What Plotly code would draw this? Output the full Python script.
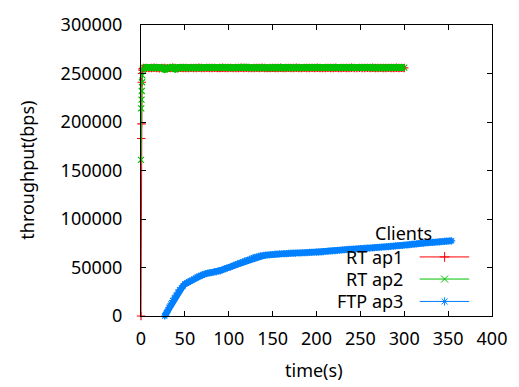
import plotly.graph_objects as go

# ---- data -------------------------------------------------------------
rt_time = [0, 0.3, 0.6, 0.9, 1.2, 1.6, 2.0] + list(range(3, 301, 3))

rt_ap1 = [0, 183000, 198000, 241000, 250000, 253500, 255000,
          255600, 255800, 255500, 255700, 255900, 255600, 255400, 255800, 255700, 255500,
          255600, 255900, 255700, 255400, 255800, 255600, 255700, 255500, 255800, 255600,
          255700, 255900, 255600, 255500, 255800, 255700, 255600, 255800, 255500, 255700,
          255900, 255600, 255700, 255800, 255500, 255600, 255700, 255900, 255600, 255800,
          255700, 255500, 255600, 255800, 255700, 255900, 255600, 255500, 255700, 255800,
          255600, 255700, 255900, 255500, 255600, 255800, 255700, 255600, 255900, 255700,
          255500, 255800, 255600, 255700, 255800, 255600, 255900, 255700, 255500, 255600,
          255800, 255700, 255600, 255900, 255500, 255700, 255800, 255600, 255700, 255900,
          255600, 255500, 255800, 255700, 255600, 255800, 255700, 255900, 255600, 255700,
          255800, 255600, 255700, 255800, 255600, 255700, 255900, 255600, 255800, 255700]

rt_ap2 = [161000, 214000, 223000, 232000, 241000, 248000, 254000,
          256100, 256300, 256000, 255800, 256200, 256400, 256100, 255900, 254300, 256200,
          256000, 256300, 254600, 256100, 255900, 256200, 256400, 256000, 256100, 255800,
          256300, 256200, 256000, 256100, 256300, 255900, 256200, 256100, 256400, 256000,
          256200, 256300, 256100, 255900, 256200, 256000, 256300, 256100, 256200, 256400,
          256000, 256100, 256300, 256200, 255900, 256100, 256300, 256000, 256200, 256100,
          256400, 256200, 256000, 256100, 256300, 256200, 255900, 256100, 256200, 256300,
          256000, 256200, 256100, 256400, 256200, 256000, 256300, 256100, 256200, 255900,
          256100, 256300, 256200, 256000, 256100, 256200, 256400, 256100, 256000, 256300,
          256200, 256100, 256000, 256200, 256300, 256100, 256200, 256000, 256300, 256100,
          256200, 256100, 256300, 256000, 256200, 256100, 256300, 256200, 256000, 256100]

ftp_time = [27, 28, 29, 30, 31, 32] + list(range(34, 355, 2))

ftp_ap3 = [0, 1500, 3000, 5000, 6500, 9000,
           12500, 16000, 18500, 21500, 24500, 27000, 29000, 31000, 33000, 34000,
           35000, 36000, 37000, 38000, 39000, 40200, 41000, 41800, 42400, 43000,
           43700, 44100, 44400, 44700, 45000, 45400, 45800, 46200, 46600, 47300,
           48000, 48800, 49400, 50000, 50600, 51400, 52200, 53000, 53700, 54300,
           55000, 55800, 56500, 57000, 57700, 58400, 59200, 59900, 60500, 61000,
           61500, 61900, 62200, 62500, 62700, 62900, 63100, 63300, 63400, 63600,
           63800, 63900, 64000, 64200, 64300, 64400, 64400, 64600, 64700, 64800,
           64800, 64900, 65000, 65000, 65100, 65200, 65200, 65300, 65400, 65500,
           65600, 65600, 65700, 65800, 65900, 66000, 66100, 66300, 66500, 66700,
           66900, 67000, 67200, 67300, 67400, 67600, 67800, 67900, 68100, 68300,
           68400, 68600, 68700, 68800, 68900, 69000, 69100, 69300, 69400, 69500,
           69700, 69800, 69900, 70000, 70100, 70300, 70400, 70600, 70700, 70900,
           71000, 71200, 71300, 71500, 71600, 71800, 71900, 72100, 72200, 72400,
           72500, 72700, 72800, 73000, 73200, 73400, 73600, 73800, 74000, 74200,
           74400, 74600, 74800, 75000, 75200, 75300, 75500, 75600, 75800, 75900,
           76000, 76200, 76300, 76500, 76600, 76800, 76900, 77100, 77200, 77400,
           77500]

assert len(rt_time) == len(rt_ap1) == len(rt_ap2)
assert len(ftp_time) == len(ftp_ap3)

x_ticks = list(range(0, 401, 50))
y_ticks = list(range(0, 300001, 50000))
y_tick_text = [str(v) for v in y_ticks]

# name, x, y, colour, symbol, index where the dense steady run begins, band width
series = [
    ("RT ap1", rt_time, rt_ap1, "#ff0000", "cross-thin", 7, 7),
    ("RT ap2", rt_time, rt_ap2, "#00c000", "x-thin", 7, 7),
    ("FTP ap3", ftp_time, ftp_ap3, "#0080ff", "asterisk", 0, 6),
]

FONT = "Noto Sans"
FS = 18

fig = go.Figure()

for name, xs, ys, color, sym, start, band in series:
    # dense sampling merges the points into a solid band
    fig.add_trace(go.Scatter(
        x=xs[start:], y=ys[start:], mode="lines", cliponaxis=False,
        line=dict(color=color, width=band), showlegend=False, hoverinfo="skip",
    ))
    fig.add_trace(go.Scatter(
        x=xs, y=ys, mode="lines+markers", name=name, cliponaxis=False,
        line=dict(color=color, width=1),
        marker=dict(symbol=sym, size=6, color=color,
                    line=dict(color=color, width=1.2)),
        showlegend=False,
    ))

# ---- key (text on the left, sample on the right) -------------------------
key_rows = [0.203, 0.127, 0.050]
key_x0, key_x1, key_mid = 0.794, 0.935, 0.865
for (name, _, _, color, sym, _, _), ky in zip(series, key_rows):
    fig.add_shape(type="line", xref="paper", yref="paper",
                  x0=key_x0, x1=key_x1, y0=ky, y1=ky,
                  line=dict(color=color, width=1))
    fig.add_trace(go.Scatter(
        x=[key_mid], y=[ky], xaxis="x2", yaxis="y2", mode="markers",
        marker=dict(symbol=sym, size=7, color=color,
                    line=dict(color=color, width=1)),
        showlegend=False, hoverinfo="skip", cliponaxis=False,
    ))
    fig.add_annotation(x=0.752, y=ky, xref="paper", yref="paper",
                       text=name, showarrow=False, xanchor="right",
                       yanchor="middle", font=dict(family=FONT, size=FS, color="black"))

fig.add_annotation(x=0.749, y=0.284, xref="paper", yref="paper",
                   text="Clients", showarrow=False, xanchor="center",
                   yanchor="middle", font=dict(family=FONT, size=FS, color="black"))

# axis titles
fig.add_annotation(x=0.493, y=-0.187, xref="paper", yref="paper",
                   text="time(s)", showarrow=False, xanchor="center",
                   yanchor="middle", font=dict(family=FONT, size=FS, color="black"))
fig.add_annotation(x=-0.327, y=0.5, xref="paper", yref="paper",
                   text="throughput(bps)", showarrow=False, textangle=-90,
                   xanchor="center", yanchor="middle",
                   font=dict(family=FONT, size=FS, color="black"))

axis_style = dict(showline=True, linecolor="black", linewidth=1, mirror="allticks",
                  ticks="inside", ticklen=5, tickcolor="black", showgrid=False,
                  zeroline=False, tickfont=dict(family=FONT, size=FS, color="black"))

fig.update_layout(
    width=519, height=387,
    margin=dict(l=141, r=23, t=16, b=71),
    paper_bgcolor="white", plot_bgcolor="white",
    xaxis=dict(range=[0, 400], tickvals=x_ticks, ticklabelstandoff=6, **axis_style),
    yaxis=dict(range=[0, 300000], tickvals=y_ticks, ticktext=y_tick_text,
               ticklabelstandoff=14, **axis_style),
    xaxis2=dict(range=[0, 1], overlaying="x", visible=False),
    yaxis2=dict(range=[0, 1], overlaying="y", visible=False),
)

fig.write_html("out.html")
